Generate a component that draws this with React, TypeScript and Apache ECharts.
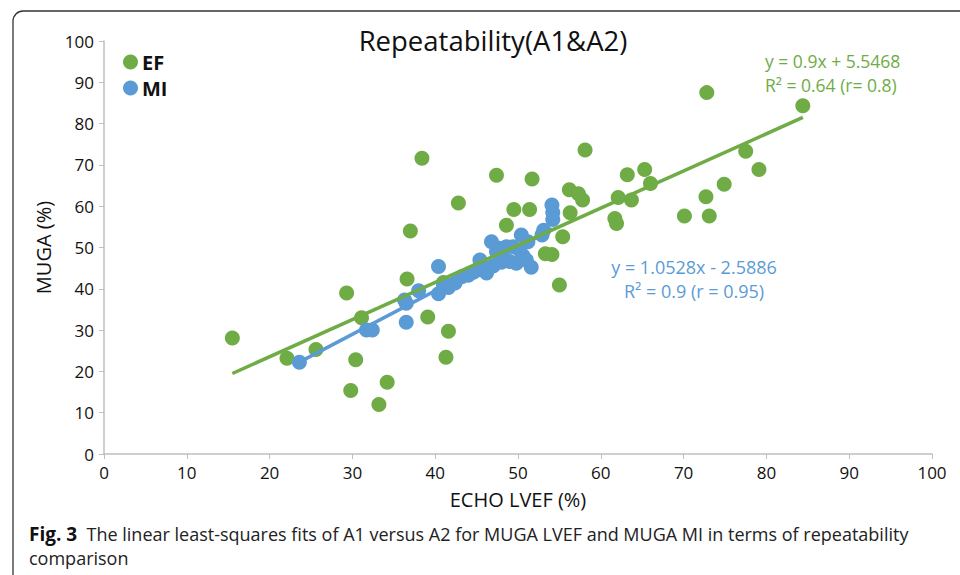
import React, { useEffect, useRef } from "react";
import * as echarts from "echarts";

const efPoints: number[][] = [
  [15.5, 28.1], [22.1, 23.2], [25.6, 25.3], [29.3, 39.0], [31.1, 33.0], [30.4, 22.8],
  [29.8, 15.4], [33.2, 12.0], [34.2, 17.4], [36.6, 42.4], [39.1, 33.2], [41.6, 29.7],
  [41.3, 23.4], [38.4, 71.6], [42.8, 60.8], [37.0, 54.0], [72.8, 87.5], [84.4, 84.3],
  [58.1, 73.6], [77.5, 73.3], [79.1, 68.9], [47.4, 67.5], [51.7, 66.6], [63.2, 67.6],
  [65.3, 68.9], [66.0, 65.5], [74.9, 65.3], [72.7, 62.3], [56.2, 64.0], [57.3, 63.0],
  [57.8, 61.5], [62.1, 62.1], [63.7, 61.5], [49.5, 59.2], [51.4, 59.2], [56.3, 58.4],
  [61.7, 57.0], [61.9, 55.8], [70.1, 57.6], [73.1, 57.6], [48.6, 55.4], [55.4, 52.6],
  [53.3, 48.5], [54.1, 48.3], [55.0, 40.9], [41.0, 41.5]
];

const miPoints: number[][] = [
  [23.6, 22.2], [31.7, 30.0], [32.4, 30.0], [36.5, 31.9], [36.5, 36.5], [36.3, 37.3],
  [38.0, 39.5], [40.4, 38.8], [40.4, 45.4], [41.0, 41.0], [41.6, 40.3], [42.4, 41.4],
  [43.2, 42.9], [44.0, 43.3], [44.6, 44.0], [45.4, 47.0], [46.2, 43.8], [46.8, 51.4],
  [46.0, 45.0], [47.4, 49.0], [47.8, 49.8], [48.2, 47.8], [48.6, 50.2], [49.0, 46.6],
  [49.4, 50.2], [49.8, 46.2], [50.2, 49.4], [50.4, 53.0], [51.0, 47.0], [51.2, 51.4],
  [51.6, 45.2], [52.9, 53.0], [53.1, 54.2], [54.2, 56.8], [54.2, 58.5], [54.1, 60.3],
  [48.0, 46.4], [50.6, 48.0], [47.0, 45.5], [45.0, 44.5]
];

// regression coefficients [slope, intercept]
const efFit = [0.9, 5.5468];
const miFit = [1.0528, -2.5886];

const xTicks = [0, 10, 20, 30, 40, 50, 60, 70, 80, 90, 100];
const yTicks = [0, 10, 20, 30, 40, 50, 60, 70, 80, 90, 100];

const GREEN = "#6FAC46";
const BLUE = "#5B9BD5";

function fitLine(pts: number[][], fit: number[]) {
  const xs = pts.map((p) => p[0]);
  const lo = Math.min(...xs);
  const hi = Math.max(...xs);
  return [
    [lo, fit[0] * lo + fit[1]],
    [hi, fit[0] * hi + fit[1]],
  ];
}

export default function App() {
  const ref = useRef<HTMLDivElement>(null);
  useEffect(() => {
    if (!ref.current) return;
    const chart = echarts.init(ref.current, null, { renderer: "svg" });
    const font = "'Open Sans', 'Noto Sans', sans-serif";
    chart.setOption({
      animation: false,
      backgroundColor: "#ffffff",
      textStyle: { fontFamily: font },
      title: {
        text: "Repeatability(A1&A2)",
        left: 488,
        top: 21,
        textAlign: "center",
        textStyle: { fontSize: 27.5, fontWeight: "normal", color: "#111", fontFamily: font },
      },
      legend: {
        data: ["EF", "MI"],
        orient: "vertical",
        left: 118,
        top: 47,
        itemWidth: 15,
        itemHeight: 15,
        itemGap: 6,
        icon: "circle",
        textStyle: {
          fontSize: 20,
          lineHeight: 20,
          fontWeight: "bold",
          color: "#111",
          fontFamily: font,
          padding: [0, 0, 0, -1],
        },
      },
      grid: { left: 104, right: 28, top: 41, bottom: 121 },
      xAxis: {
        type: "value",
        min: xTicks[0],
        max: xTicks[xTicks.length - 1],
        interval: 10,
        name: "ECHO LVEF (%)",
        nameLocation: "middle",
        nameGap: 35,
        nameTextStyle: { fontSize: 20, color: "#111", fontFamily: font },
        axisLine: { lineStyle: { color: "#BFBFBF", width: 1.5 } },
        axisTick: { show: true, length: 5, lineStyle: { color: "#BFBFBF" } },
        axisLabel: { fontSize: 17, color: "#111", margin: 10 },
        splitLine: { show: false },
      },
      yAxis: {
        type: "value",
        min: yTicks[0],
        max: yTicks[yTicks.length - 1],
        interval: 10,
        name: "MUGA (%)",
        nameLocation: "middle",
        nameGap: 44,
        nameTextStyle: { fontSize: 20, color: "#111", fontFamily: font },
        axisLine: { show: true, lineStyle: { color: "#BFBFBF", width: 1.5 } },
        axisTick: { show: true, length: 5, lineStyle: { color: "#BFBFBF" } },
        axisLabel: { fontSize: 17, color: "#111", margin: 10 },
        splitLine: { show: false },
      },
      series: [
        {
          name: "EF",
          type: "scatter",
          data: efPoints,
          symbolSize: 15,
          itemStyle: { color: GREEN, opacity: 1 },
          z: 2,
        },
        {
          name: "MI",
          type: "scatter",
          data: miPoints,
          symbolSize: 15,
          itemStyle: { color: BLUE, opacity: 1 },
          z: 3,
        },
        {
          name: "MI fit",
          type: "line",
          data: fitLine(miPoints, miFit),
          showSymbol: false,
          symbol: "none",
          lineStyle: { color: BLUE, width: 3.5 },
          z: 4,
        },
        {
          name: "EF fit",
          type: "line",
          data: fitLine(efPoints, efFit),
          showSymbol: false,
          symbol: "none",
          lineStyle: { color: GREEN, width: 3.5 },
          z: 5,
        },
      ],
      graphic: [
        {
          type: "rect",
          shape: { x: 13, y: 11, width: 980, height: 620, r: 10 },
          style: { fill: "none", stroke: "#333", lineWidth: 1.3 },
          silent: true,
          z: 100,
        },
        {
          type: "text",
          left: 765,
          top: 49,
          style: {
            text: "y = 0.9x + 5.5468\nR² = 0.64 (r= 0.8)",
            fill: GREEN,
            font: `17.5px ${font}`,
            lineHeight: 24,
          },
          z: 100,
        },
        {
          type: "text",
          x: 694,
          y: 255,
          style: {
            text: "y = 1.0528x - 2.5886\nR² = 0.9 (r = 0.95)",
            fill: BLUE,
            font: `18px ${font}`,
            lineHeight: 24,
            align: "center",
            textAlign: "center",
          },
          z: 100,
        },
        {
          type: "text",
          left: 29,
          top: 522,
          style: {
            text: "{b|Fig. 3}  The linear least-squares fits of A1 versus A2 for MUGA LVEF and MUGA MI in terms of repeatability\ncomparison",
            fill: "#222",
            font: `18px ${font}`,
            lineHeight: 24,
            rich: {
              b: { fontWeight: "bold", fontSize: 19, fill: "#111", fontFamily: font },
            },
          },
          z: 100,
        },
      ],
    });
    return () => chart.dispose();
  }, []);
  return (
    <div
      ref={ref}
      style={{ position: "absolute", left: 0, top: 0, width: 960, height: 575 }}
    />
  );
}
